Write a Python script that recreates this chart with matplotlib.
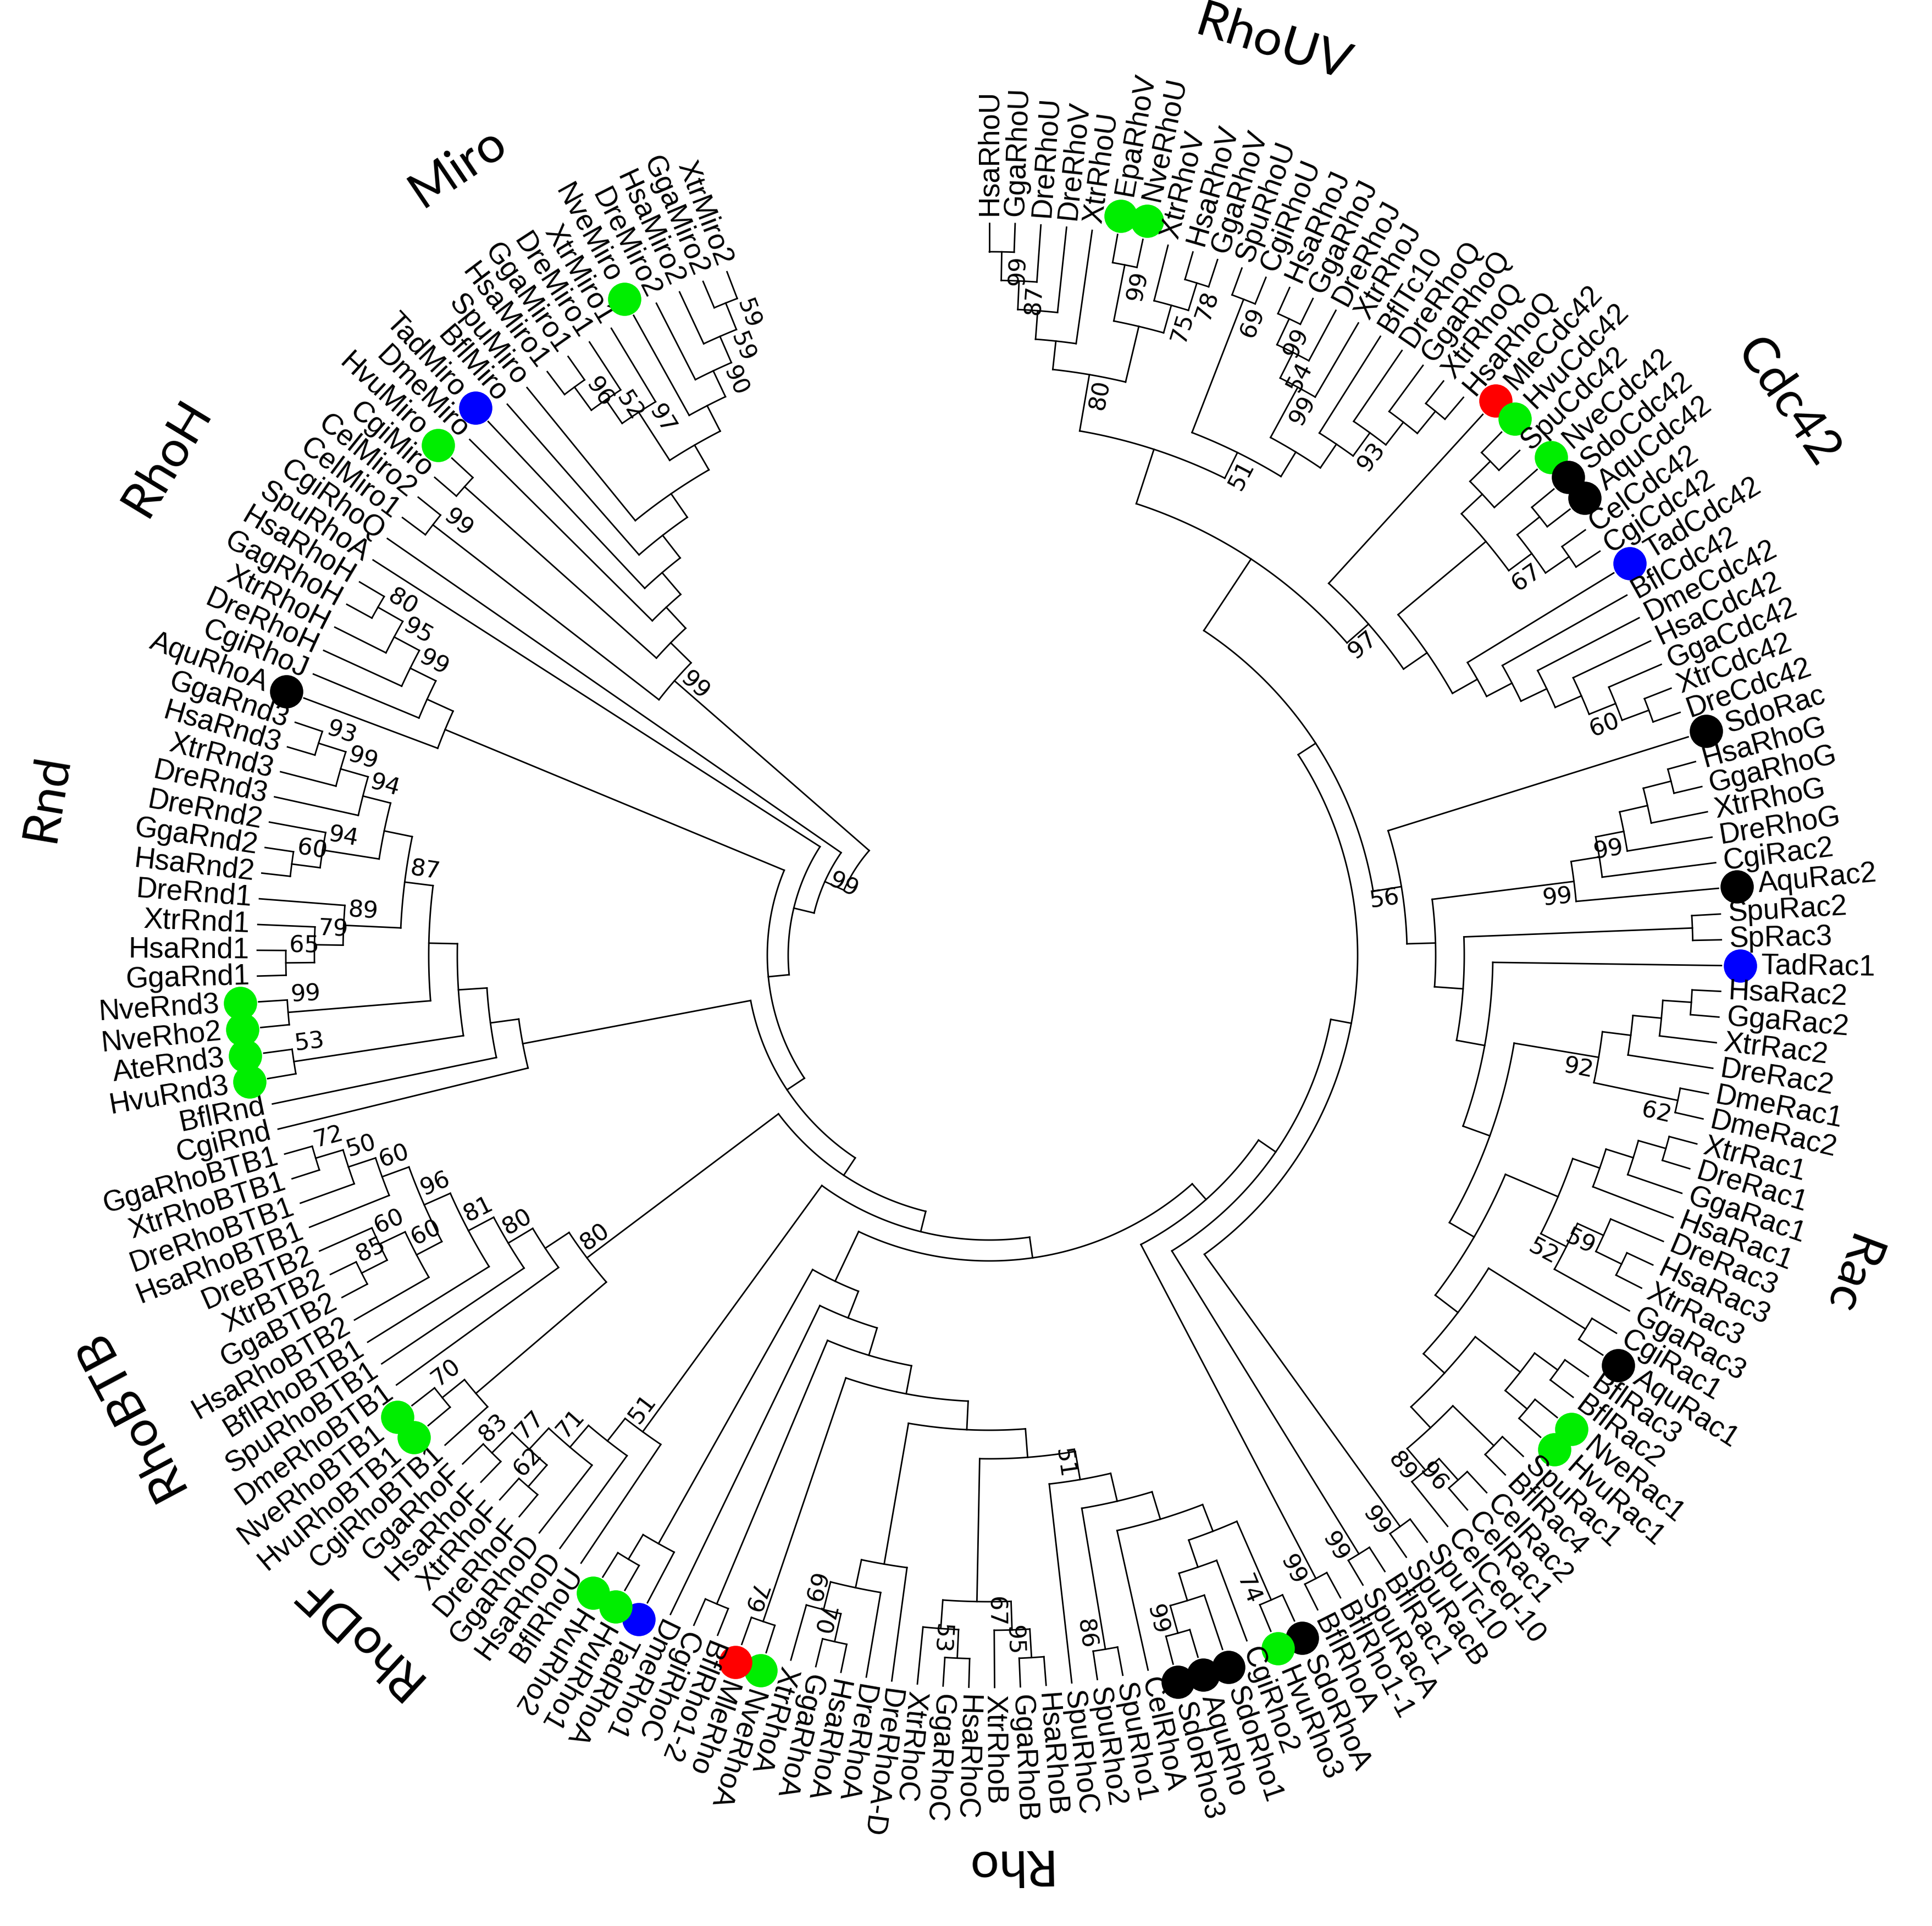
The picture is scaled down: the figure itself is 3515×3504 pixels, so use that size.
import numpy as np
import matplotlib
matplotlib.use("Agg")
import matplotlib.pyplot as plt
from matplotlib.collections import LineCollection

# ---- tree data (newick, leaves written clockwise from the top) ----
uv = "((((HsaRhoU,GgaRhoU)99,DreRhoU)87,DreRhoV),XtrRhoU)"
v2 = "((EpaRhoV,NveRhoU)99,(XtrRhoV,(HsaRhoV,GgaRhoV)78)75)"
jq = ("((SpuRhoU,CgiRhoU)69,((((HsaRhoJ,GgaRhoJ)99,DreRhoJ)54,XtrRhoJ)99,"
      "(BflTc10,(DreRhoQ,(GgaRhoQ,(XtrRhoQ,HsaRhoQ)))93)))51")
rhouv = f"(({uv},{v2})80,{jq})"

cdc_vert = "(BflCdc42,(DmeCdc42,(HsaCdc42,(GgaCdc42,(XtrCdc42,DreCdc42))60)))"
cdc42 = ("(MleCdc42,((((HvuCdc42,SpuCdc42),NveCdc42),((SdoCdc42,AquCdc42),"
         f"(CelCdc42,CgiCdc42))67),(TadCdc42,{cdc_vert})))97")

rhog = "(((((HsaRhoG,GgaRhoG),XtrRhoG),DreRhoG)99,CgiRac2),AquRac2)"
rac2 = "((((HsaRac2,GgaRac2),XtrRac2),DreRac2),(DmeRac1,DmeRac2)62)"
rac13 = "((((XtrRac1,DreRac1),GgaRac1),HsaRac1),((DreRac3,(HsaRac3,XtrRac3))59,GgaRac3)52)"
racinv = ("((CgiRac1,AquRac1),(((BflRac3,BflRac2),(NveRac1,HvuRac1)),"
          "((SpuRac1,BflRac4),((CelRac2,CelRac1)96,CelCed-10)89)))")
rac_core = f"(TadRac1,({rac2}92,({rac13},{racinv})))"
rac = f"(SdoRac,({rhog}99,((SpuRac2,SpRac3),{rac_core})))56"

rA = "((SdoRhoA,HvuRho3)74,(CgiRho2,(SdoRho1,(AquRho,SdoRho3)99)))"
rB = f"((({rA},CelRhoA),(SpuRho1,SpuRho2)86),SpuRhoC)51"
rBC = "(((HsaRhoB,GgaRhoB)95,XtrRhoB)67,((HsaRhoC,GgaRhoC)53,XtrRhoC))"
rA2 = "(DreRhoA-D,(DreRhoA,((HsaRhoA,GgaRhoA)70,XtrRhoA)69))"
rho = (f"(((((({rB},{rBC}),{rA2}),(NveRhoA,MleRho)79),(BflRho1-2,CgiRhoC)),"
       "DmeRho1),(TadRhoA,(HvuRho1,HvuRho2)))")

rhodf = "(BflRhoU,(HsaRhoD,(GgaRhoD,((DreRhoF,XtrRhoF)62,(HsaRhoF,GgaRhoF)83)77)71))51"

btb2 = "(HsaRhoBTB2,((GgaBTB2,XtrBTB2)85,DreBTB2)60)60"
btb1 = "(HsaRhoBTB1,(DreRhoBTB1,(XtrRhoBTB1,GgaRhoBTB1)72)50)60"
rhobtb = (f"((CgiRhoBTB1,(HvuRhoBTB1,NveRhoBTB1)70),(DmeRhoBTB1,(SpuRhoBTB1,"
          f"(BflRhoBTB1,({btb2},{btb1})96)81)80))80")

rnd1 = "(((GgaRnd1,HsaRnd1)65,XtrRnd1)79,DreRnd1)89"
rnd2 = "((HsaRnd2,GgaRnd2)60,DreRnd2)94"
rnd3 = "(DreRnd3,(XtrRnd3,(HsaRnd3,GgaRnd3)93)99)94"
rnd = f"(CgiRnd,(BflRnd,((HvuRnd3,AteRnd3)53,((NveRho2,NveRnd3)99,({rnd1},({rnd2},{rnd3}))87))))"

rhoh = "(AquRhoA,(CgiRhoJ,(DreRhoH,(XtrRhoH,(GagRhoH,HsaRhoH)80)95)99))"

miro1 = "(((HsaMiro1,GgaMiro1)96,DreMiro1)52,XtrMiro1)97"
miro2 = "(NveMiro,(DreMiro2,(HsaMiro2,(GgaMiro2,XtrMiro2)59)59)90)"
miro = ("((CelMiro1,CelMiro2)99,((CgiMiro,HvuMiro),(DmeMiro,(TadMiro,(BflMiro,"
        f"(SpuMiro,({miro1},{miro2})))))))99")

backbone_parts = [cdc42, rac, "(SpuTc10,SpuRacB)99", "(BflRac1,SpuRacA)99",
                  "(BflRho1-1,BflRhoA)99", rho, rhodf, rhobtb, rnd, rhoh,
                  "SpuRhoA", "CgiRhoQ", miro]
backbone_boot = ["", "", "", "", "", "", "", "", "", "", "", "99", ""]

clade_names = ["RhoUV", "Cdc42", "Rac", "Rho", "RhoDF", "RhoBTB", "Rnd", "RhoH", "Miro"]
clade_angle = [72.7, 34.7, -20.4, -89, -133, -152, 170.5, 148.8, 124]

dot_green = ["Nve", "Hvu", "Epa", "Ate"]
dot_black = ["Aqu", "Sdo"]
dot_blue = ["Tad"]
dot_red = ["Mle"]

# ---- geometry / style ----
W, H = 3516, 3504
CX, CY = 1800, H - 1738
R_TIP = 1332
STEP = 52
EPS = 38
R_ROOT = 290
GAP = 21.0
clade_radius = [1737, 1766, 1668, 1655, 1690, 1775, 1740, 1750, 1730]

newick = rhouv
for part, b in zip(backbone_parts, backbone_boot):
    newick = f"({newick},{part}){b}"


def parse_newick(s):
    pos = 0

    def read_label():
        nonlocal pos
        start = pos
        while pos < len(s) and s[pos] not in "(),;":
            pos += 1
        return s[start:pos]

    def read_node():
        nonlocal pos
        if s[pos] == "(":
            pos += 1
            kids = [read_node()]
            while s[pos] == ",":
                pos += 1
                kids.append(read_node())
            pos += 1
            return {"kids": kids, "boot": read_label()}
        return {"name": read_label()}

    return read_node()


root = parse_newick(newick)

leaves = []


def collect(n):
    if "name" in n:
        leaves.append(n)
    else:
        for k in n["kids"]:
            collect(k)


collect(root)
step_deg = (360.0 - GAP) / (len(leaves) - 1)
for i, lf in enumerate(leaves):
    lf["ang"] = 90.0 - i * step_deg


def height(n):
    if "name" in n:
        n["h"] = 0
    else:
        n["h"] = 1 + max(height(k) for k in n["kids"])
    return n["h"]


def place(n, r_parent):
    if "name" in n:
        n["r"] = R_TIP
        return
    n["r"] = max(R_TIP - STEP * n["h"], r_parent + EPS)
    for k in n["kids"]:
        place(k, n["r"])
    n["ang"] = (n["kids"][0]["ang"] + n["kids"][-1]["ang"]) / 2.0


height(root)
place(root, R_ROOT - EPS)


def pol(r, a):
    t = np.radians(a)
    return CX + r * np.cos(t), CY + r * np.sin(t)


segs = []
internal = []


def build(n):
    if "name" in n:
        return
    internal.append(n)
    a0, a1 = n["kids"][0]["ang"], n["kids"][-1]["ang"]
    t = np.linspace(a0, a1, max(int(abs(a1 - a0) * 4), 2))
    xs, ys = pol(n["r"], t)
    segs.append(np.column_stack([xs, ys]))
    for k in n["kids"]:
        p0 = pol(n["r"], k["ang"])
        p1 = pol(k["r"], k["ang"])
        segs.append([p0, p1])
        build(k)


build(root)


def flipped(a):
    return a < -123.0


fig = plt.figure(figsize=(W / 100, H / 100), dpi=100)
ax = fig.add_axes([0, 0, 1, 1])
ax.set_xlim(0, W)
ax.set_ylim(0, H)
ax.set_aspect("equal")
ax.axis("off")

ax.add_collection(LineCollection(segs, colors="black", linewidths=2.0, capstyle="projecting"))


def dot_color(name):
    sp = name[:3]
    if sp in dot_green:
        return "#00ee00"
    if sp in dot_black:
        return "black"
    if sp in dot_blue:
        return "#0000ff"
    if sp in dot_red:
        return "#ff0000"
    return None


for lf in leaves:
    a = lf["ang"]
    col = dot_color(lf["name"])
    off = 14
    if col is not None:
        x, y = pol(R_TIP + 34, a)
        ax.scatter([x], [y], s=1900, color=col, zorder=3, linewidths=0)
        off = 72
    x, y = pol(R_TIP + off, a)
    if flipped(a):
        ax.text(x, y, lf["name"], rotation=a + 180, ha="right", va="center",
                rotation_mode="anchor", fontsize=38, family="Liberation Sans")
    else:
        ax.text(x, y, lf["name"], rotation=a, ha="left", va="center",
                rotation_mode="anchor", fontsize=38, family="Liberation Sans")

for n in internal:
    if not n["boot"]:
        continue
    a = n["ang"] - 1.4
    x, y = pol(n["r"] - 6, a)
    if flipped(n["ang"]):
        ax.text(x, y, n["boot"], rotation=a + 180, ha="left", va="center",
                rotation_mode="anchor", fontsize=31, family="DejaVu Sans")
    else:
        ax.text(x, y, n["boot"], rotation=a, ha="right", va="center",
                rotation_mode="anchor", fontsize=31, family="DejaVu Sans")

for name, a, r in zip(clade_names, clade_angle, clade_radius):
    x, y = pol(r, a)
    ax.text(x, y, name, rotation=a - 90, ha="center", va="center",
            rotation_mode="anchor", fontsize=66, family="Lato")

fig.savefig("out.png", dpi=100)
